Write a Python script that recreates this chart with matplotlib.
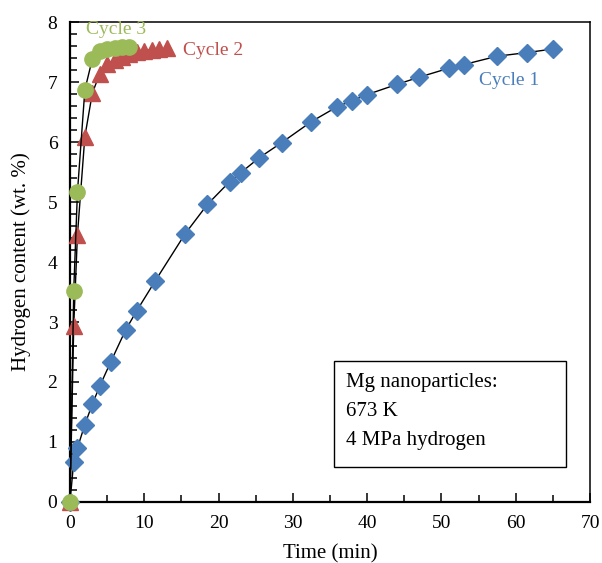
import matplotlib
matplotlib.use("Agg")
import matplotlib.pyplot as plt
from matplotlib.patches import Rectangle
from matplotlib.ticker import MultipleLocator

plt.rcParams['font.family'] = ['Liberation Serif', 'DejaVu Serif']

# Cycle 1 (blue diamonds)
t1 = [0, 0.5, 1, 2, 3, 4, 5.5, 7.5, 9, 11.5, 15.5, 18.5, 21.5, 23, 25.5, 28.5,
      32.5, 36, 38, 40, 44, 47, 51, 53, 57.5, 61.5, 65]
h1 = [0, 0.67, 0.9, 1.29, 1.63, 1.93, 2.34, 2.87, 3.19, 3.69, 4.47, 4.96, 5.34,
      5.49, 5.74, 5.99, 6.34, 6.59, 6.69, 6.79, 6.96, 7.08, 7.23, 7.29, 7.43,
      7.49, 7.55]

# Cycle 2 (red triangles)
t2 = [0, 0.5, 1, 2, 3, 4, 5, 6, 7, 8, 9, 10, 11, 12, 13]
h2 = [0, 2.93, 4.45, 6.09, 6.81, 7.14, 7.3, 7.37, 7.42, 7.46, 7.5, 7.52, 7.54,
      7.55, 7.56]

# Cycle 3 (green circles)
t3 = [0, 0.5, 1, 2, 3, 4, 5, 6, 7, 8]
h3 = [0, 3.52, 5.16, 6.87, 7.38, 7.52, 7.55, 7.57, 7.58, 7.58]

blue = '#4A7EBB'
red = '#C0504D'
green = '#9BBB59'

fig = plt.figure(figsize=(6.02, 5.63), dpi=100)
ax = fig.add_axes([70 / 602, 61 / 563, 520 / 602, 480 / 563])

ax.plot(t1, h1, color='black', lw=1, marker='D', ms=9, mfc=blue, mec=blue,
        zorder=3, clip_on=False)
ax.plot(t2, h2, color='black', lw=1, marker='^', ms=11, mfc=red, mec=red,
        zorder=4, clip_on=False)
ax.plot(t3, h3, color='black', lw=1, marker='o', ms=11, mfc=green, mec=green,
        zorder=5, clip_on=False)

ax.set_xlim(0, 70)
ax.set_ylim(0, 8)
ax.xaxis.set_major_locator(MultipleLocator(10))
ax.xaxis.set_minor_locator(MultipleLocator(5))
ax.yaxis.set_major_locator(MultipleLocator(1))
ax.yaxis.set_minor_locator(MultipleLocator(0.2))
ax.tick_params(which='both', direction='in', labelsize=14, width=1.1)
ax.tick_params(which='major', length=6.5)
ax.tick_params(which='minor', length=5)
ax.tick_params(axis='y', which='both', right=False, pad=9)
ax.tick_params(axis='x', which='both', top=False, pad=9)
for s in ax.spines.values():
    s.set_linewidth(1.1)
ax.spines['left'].set_linewidth(1.6)
ax.spines['bottom'].set_linewidth(1.6)

ax.set_xlabel('Time (min)', fontsize=15, labelpad=9)
ax.set_ylabel('Hydrogen content (wt. %)', fontsize=15, labelpad=12)

ax.text(6.2, 7.87, 'Cycle 3', color=green, fontsize=14, ha='center', va='center')
ax.text(19.2, 7.53, 'Cycle 2', color=red, fontsize=14, ha='center', va='center')
ax.text(59.1, 7.03, 'Cycle 1', color=blue, fontsize=14, ha='center', va='center')

ax.add_patch(Rectangle((0.508, 0.073), 0.446, 0.221, transform=ax.transAxes,
                       fill=False, ec='black', lw=1))
for y, s in zip([0.248, 0.1875, 0.129], ['Mg nanoparticles:', '673 K', '4 MPa hydrogen']):
    ax.text(0.531, y, s, transform=ax.transAxes, fontsize=15, va='center')

fig.savefig('out.png', dpi=100)
